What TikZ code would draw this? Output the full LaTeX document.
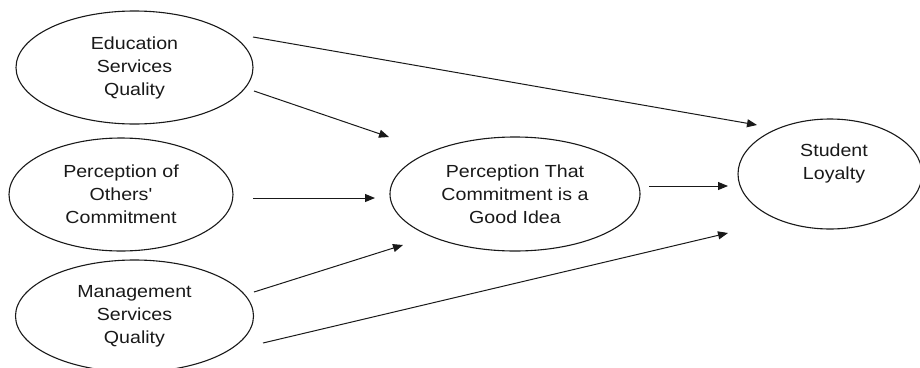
\documentclass[tikz,border=0pt]{standalone}
\usepackage{fontspec}
\setmainfont[FakeStretch=1.12, Ligatures=TeXOff]{Liberation Sans}
\usetikzlibrary{shapes.geometric,arrows.meta}
\begin{document}
\begin{tikzpicture}[x=1pt,y=-1pt,
  construct/.style={draw=black!90, line width=1.1pt, ellipse, inner sep=0pt,
    align=center, font=\fontsize{17.5}{23}\selectfont, text=black!90},
  conlabel/.style={align=center, font=\fontsize{17.5}{23}\selectfont, inner sep=0pt, text=black!90},
  link/.style={draw=black!90, line width=1pt, -{Triangle[length=10pt,width=8pt]}}]
  \useasboundingbox (0,0) rectangle (920,367);

  % constructs
  \node[construct, minimum width=237pt, minimum height=113pt] (edu) at (134.5,67.5)
    {Education\\Services\\Quality};
  \node[construct, minimum width=224pt, minimum height=113pt] (oth) at (121,194.5)
    {Perception of\\Others'\\Commitment};
  \node[construct, minimum width=238pt, minimum height=112pt] (mgt) at (134.5,316)
    {Management\\Services\\Quality};
  \node[construct, minimum width=250pt, minimum height=114pt] (pcg) at (515,194)
    {Perception That\\Commitment is a\\Good Idea};
  \node[construct, minimum width=184pt, minimum height=110pt] (loy) at (830,174) {};
  \node[conlabel] (loytext) at (834,163) {Student\\Loyalty};

  % connector end points
  \coordinate (edu-a) at (253,37);   \coordinate (loy-a) at (757,125);
  \coordinate (edu-b) at (254,91);   \coordinate (pcg-a) at (389,137);
  \coordinate (oth-a) at (253,198);  \coordinate (pcg-b) at (375,198);
  \coordinate (mgt-a) at (254,292);  \coordinate (pcg-c) at (403,245);
  \coordinate (mgt-b) at (263,343);  \coordinate (loy-b) at (728,233);
  \coordinate (pcg-d) at (649,186);  \coordinate (loy-c) at (728,186);

  % paths
  \draw[link] (edu-a) -- (loy-a);
  \draw[link] (edu-b) -- (pcg-a);
  \draw[link] (oth-a) -- (pcg-b);
  \draw[link] (mgt-a) -- (pcg-c);
  \draw[link] (mgt-b) -- (loy-b);
  \draw[link] (pcg-d) -- (loy-c);
\end{tikzpicture}
\end{document}
